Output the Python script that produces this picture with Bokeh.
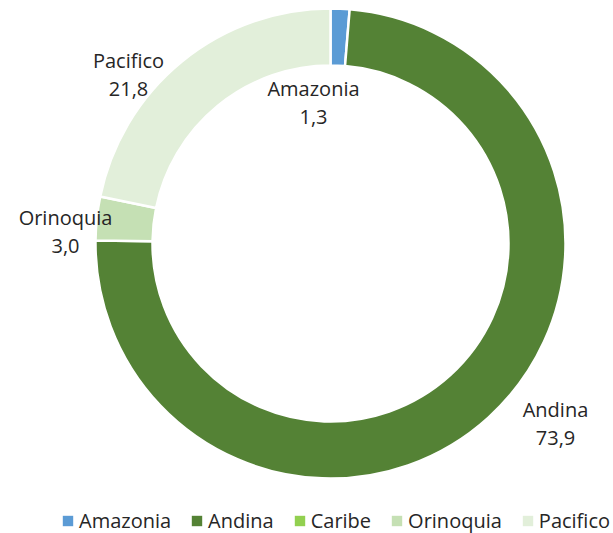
import math
from bokeh.plotting import figure
from bokeh.models import ColumnDataSource, Range1d, Legend, LegendItem
from bokeh.core.properties import value
from bokeh.embed import file_html
from bokeh.resources import INLINE

# ---- data ----
categories = ["Amazonia", "Andina", "Caribe", "Orinoquia", "Pacifico"]
shares = [1.3, 73.9, 0.0, 3.0, 21.8]
colors = ["#5B9BD5", "#548235", "#92D050", "#C5E0B4", "#E2EFDA"]

# ---- layout (pixel coordinates of the picture) ----
W, H = 613, 533
CX, CY_S = 330, 243
R_OUT, R_IN = 235, 178
FONT = "Open Sans"
TXT = "#262626"
# baseline of the first label line, per category
label_anchor = {"Amazonia": (313, 88), "Andina": (555, 409),
                "Orinoquia": (65, 217), "Pacifico": (128, 60)}
LINE_GAP = 28


def sy(y):
    return H - y  # picture y -> data y


p = figure(width=W, height=H, output_backend="svg", toolbar_location=None,
           x_range=Range1d(0, W), y_range=Range1d(0, H),
           x_axis_type=None, y_axis_type=None, min_border=0)
p.outline_line_color = None
p.background_fill_color = "white"

total = sum(shares)
starts, ends, cols, names = [], [], [], []
cum = 0.0
for c, v, col in zip(categories, shares, colors):
    a0 = math.pi / 2 - 2 * math.pi * cum / total
    cum += v
    a1 = math.pi / 2 - 2 * math.pi * cum / total
    if v > 0:
        starts.append(a0)
        ends.append(a1)
        cols.append(col)
        names.append(c)

src = ColumnDataSource(dict(start=starts, end=ends, color=cols, name=names))
p.annular_wedge(x=CX, y=sy(CY_S), inner_radius=R_IN, outer_radius=R_OUT,
                start_angle="start", end_angle="end", direction="clock",
                fill_color="color", line_color="white", line_width=2.5,
                source=src)

# data labels
lx, ly1, ly2, t1, t2 = [], [], [], [], []
for c, v in zip(categories, shares):
    if c in label_anchor:
        x0, y0 = label_anchor[c]
        lx.append(x0)
        ly1.append(sy(y0))
        ly2.append(sy(y0 + LINE_GAP))
        t1.append(c)
        t2.append(f"{v:.1f}".replace(".", ","))

lsrc = ColumnDataSource(dict(x=lx, y1=ly1, y2=ly2, t1=t1, t2=t2))
for ycol, tcol in (("y1", "t1"), ("y2", "t2")):
    p.text(x="x", y=ycol, text=tcol, source=lsrc, text_align="center",
           text_baseline="alphabetic", text_font=value(FONT),
           text_font_size="20px", text_color=TXT)

# legend (swatch-only renderers, nothing drawn in the plot)
items = []
for c, col in zip(categories, colors):
    r = p.rect(x=[float("nan")], y=[float("nan")], width=1, height=1,
               fill_color=col, line_color=None)
    items.append(LegendItem(label=c, renderers=[r]))

legend = Legend(items=items, orientation="horizontal", location=(61, -1),
                glyph_width=13, glyph_height=13, label_standoff=5, spacing=19,
                padding=0, margin=0, border_line_color=None,
                background_fill_alpha=0, label_text_font=FONT,
                label_text_font_size="20px", label_text_color=TXT)
p.add_layout(legend)

open("out.html", "w").write(file_html(p, INLINE))
